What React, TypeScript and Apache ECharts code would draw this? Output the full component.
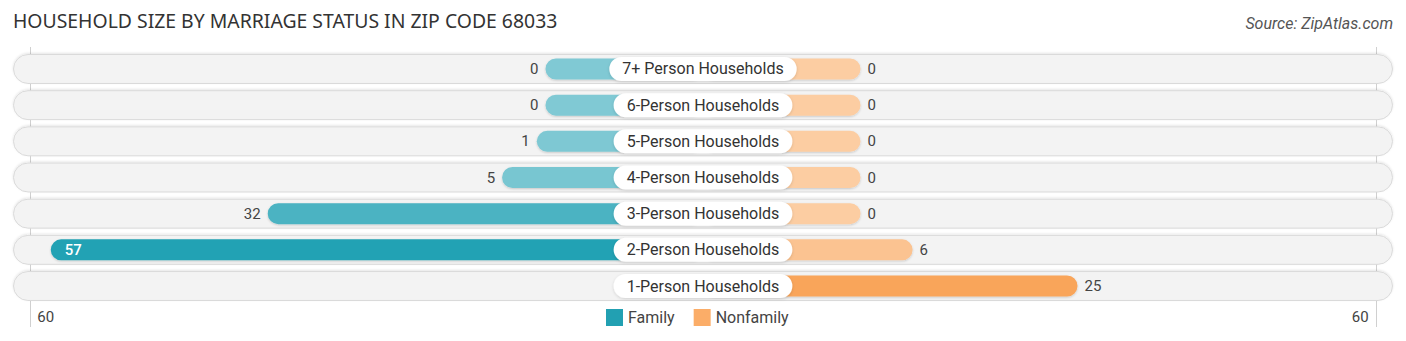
import React, { useEffect, useRef } from "react";
import * as echarts from "echarts";

const title = "HOUSEHOLD SIZE BY MARRIAGE STATUS IN ZIP CODE 68033";
const source = "Source: ZipAtlas.com";
const categories = [
  "7+ Person Households",
  "6-Person Households",
  "5-Person Households",
  "4-Person Households",
  "3-Person Households",
  "2-Person Households",
  "1-Person Households",
];
const familyValues: (number | null)[] = [0, 0, 1, 5, 32, 57, null];
const nonfamilyValues: (number | null)[] = [0, 0, 0, 0, 0, 6, 25];
const axisMaxLabel = 60;
const seriesNames = ["Family", "Nonfamily"];

// layout (in axis units)
const halfSpan = 79.5;
const stub = 18.15;
const guideAt = 77.5;

const FONT = "Roboto, 'Noto Sans', sans-serif";

function mix(a: number[], b: number[], t: number) {
  const c = a.map((x, i) => Math.round(x + (b[i] - x) * t));
  return `rgb(${c[0]},${c[1]},${c[2]})`;
}
const famLight = [128, 201, 212];
const famDark = [34, 162, 180];
const nonLight = [252, 205, 162];
const nonDark = [249, 165, 90];

const famMax = Math.max(...(familyValues.filter((v) => v != null) as number[]));
const nonMax = Math.max(...(nonfamilyValues.filter((v) => v != null) as number[]));

export default function App() {
  const ref = useRef<HTMLDivElement>(null);
  useEffect(() => {
    document.body.style.margin = "0";
    const chart = echarts.init(ref.current!, null, { renderer: "svg" });

    const makeBar = (side: number, light: number[], dark: number[], max: number) =>
      (params: any, api: any) => {
        const v = api.value(0);
        const idx = api.value(1);
        const [xEnd, yc] = api.coord([side * (v + stub), idx]);
        const xc = api.coord([0, idx])[0];
        const band = api.size([0, 1])[1];
        const h = band * 0.58;
        const x0 = Math.min(xEnd, xc);
        const w = Math.abs(xc - xEnd);
        const inside = v / axisMaxLabel > 0.9;
        const t = max > 0 ? v / max : 0;
        const label = inside
          ? {
              type: "text",
              style: {
                text: String(v),
                x: xEnd - side * 14,
                y: yc,
                align: side < 0 ? "left" : "right",
                verticalAlign: "middle",
                fill: "#ffffff",
                fontSize: 15,
                fontWeight: 500,
                fontFamily: FONT,
              },
            }
          : {
              type: "text",
              style: {
                text: String(v),
                x: xEnd + side * 7,
                y: yc,
                align: side < 0 ? "right" : "left",
                verticalAlign: "middle",
                fill: "#444444",
                fontSize: 15,
                fontFamily: FONT,
              },
            };
        return {
          type: "group",
          children: [
            {
              type: "rect",
              shape: { x: x0, y: yc - h / 2, width: w, height: h, r: h / 2 },
              style: {
                fill: mix(light, dark, t),
                shadowColor: "rgba(0,0,0,0.18)",
                shadowBlur: 2,
                shadowOffsetY: 1,
              },
            },
            label,
          ],
        };
      };

    const option: any = {
      animation: false,
      title: [
        {
          text: title,
          left: 8,
          top: 6,
          textStyle: { fontSize: 19.4, fontWeight: "normal", color: "#333333", fontFamily: "'Noto Sans', sans-serif" },
        },
        {
          text: source,
          right: 8,
          top: 10,
          textStyle: { fontSize: 16, fontWeight: "normal", fontStyle: "italic", color: "#555555", fontFamily: FONT },
        },
      ],
      legend: {
        data: seriesNames,
        left: 601,
        top: 304,
        itemWidth: 17,
        itemHeight: 17,
        itemGap: 19,
        icon: "rect",
        textStyle: { fontSize: 16, color: "#444444", fontFamily: FONT },
      },
      grid: { left: 13, right: 13, top: 50.9, bottom: 36.9 },
      xAxis: { type: "value", min: -halfSpan, max: halfSpan, show: false },
      yAxis: { type: "category", data: categories, inverse: true, show: false },
      series: [
        {
          type: "custom",
          name: "bg",
          z: 1,
          silent: true,
          data: categories.map((c, i) => [0, i]),
          renderItem: (params: any, api: any) => {
            const idx = api.value(1);
            const yc = api.coord([0, idx])[1];
            const l = api.coord([-halfSpan, idx])[0];
            const r = api.coord([halfSpan, idx])[0];
            const band = api.size([0, 1])[1];
            const h = band * 0.8;
            return {
              type: "rect",
              shape: { x: l + 0.5, y: yc - h / 2, width: r - l - 1, height: h, r: h / 2 },
              style: {
                fill: "#f3f3f3",
                stroke: "#dadada",
                lineWidth: 1,
                shadowColor: "rgba(0,0,0,0.1)",
                shadowBlur: 2,
                shadowOffsetY: -1,
              },
            };
          },
        },
        {
          type: "custom",
          name: "Family",
          z: 2,
          itemStyle: { color: "#22a0b2" },
          data: familyValues.map((v, i) => (v == null ? null : [v, i])).filter((d) => d != null),
          renderItem: makeBar(-1, famLight, famDark, famMax),
        },
        {
          type: "custom",
          name: "Nonfamily",
          z: 2,
          itemStyle: { color: "#fbad68" },
          data: nonfamilyValues.map((v, i) => (v == null ? null : [v, i])).filter((d) => d != null),
          renderItem: makeBar(1, nonLight, nonDark, nonMax),
        },
        {
          type: "custom",
          name: "labels",
          z: 5,
          silent: true,
          data: categories.map((c, i) => [0, i]),
          renderItem: (params: any, api: any) => {
            const idx = api.value(1);
            const [xc, yc] = api.coord([0, idx]);
            return {
              type: "text",
              style: {
                text: categories[idx],
                x: xc,
                y: yc,
                align: "center",
                verticalAlign: "middle",
                fontSize: 16,
                lineHeight: 18,
                fill: "#333333",
                fontFamily: FONT,
                backgroundColor: "#ffffff",
                borderRadius: 12,
                padding: [3, 13],
                shadowColor: "rgba(0,0,0,0.15)",
                shadowBlur: 3,
                shadowOffsetY: 1,
              },
            };
          },
        },
      ],
    };
    chart.setOption(option);

    const xl = chart.convertToPixel({ xAxisIndex: 0 }, -guideAt) as number;
    const xr = chart.convertToPixel({ xAxisIndex: 0 }, guideAt) as number;
    chart.setOption({
      graphic: [
        { type: "line", z: 0, shape: { x1: Math.round(xl) + 0.5, y1: 47, x2: Math.round(xl) + 0.5, y2: 327 }, style: { stroke: "#d0d0d0", lineWidth: 1 } },
        { type: "line", z: 0, shape: { x1: Math.round(xr) + 0.5, y1: 47, x2: Math.round(xr) + 0.5, y2: 327 }, style: { stroke: "#d0d0d0", lineWidth: 1 } },
        { type: "text", style: { text: String(axisMaxLabel), x: xl + 7, y: 317, align: "left", verticalAlign: "middle", fontSize: 15, fill: "#444444", fontFamily: FONT } },
        { type: "text", style: { text: String(axisMaxLabel), x: xr - 7, y: 317, align: "right", verticalAlign: "middle", fontSize: 15, fill: "#444444", fontFamily: FONT } },
      ],
    });

    return () => chart.dispose();
  }, []);
  return <div ref={ref} style={{ width: 1406, height: 341 }} />;
}
